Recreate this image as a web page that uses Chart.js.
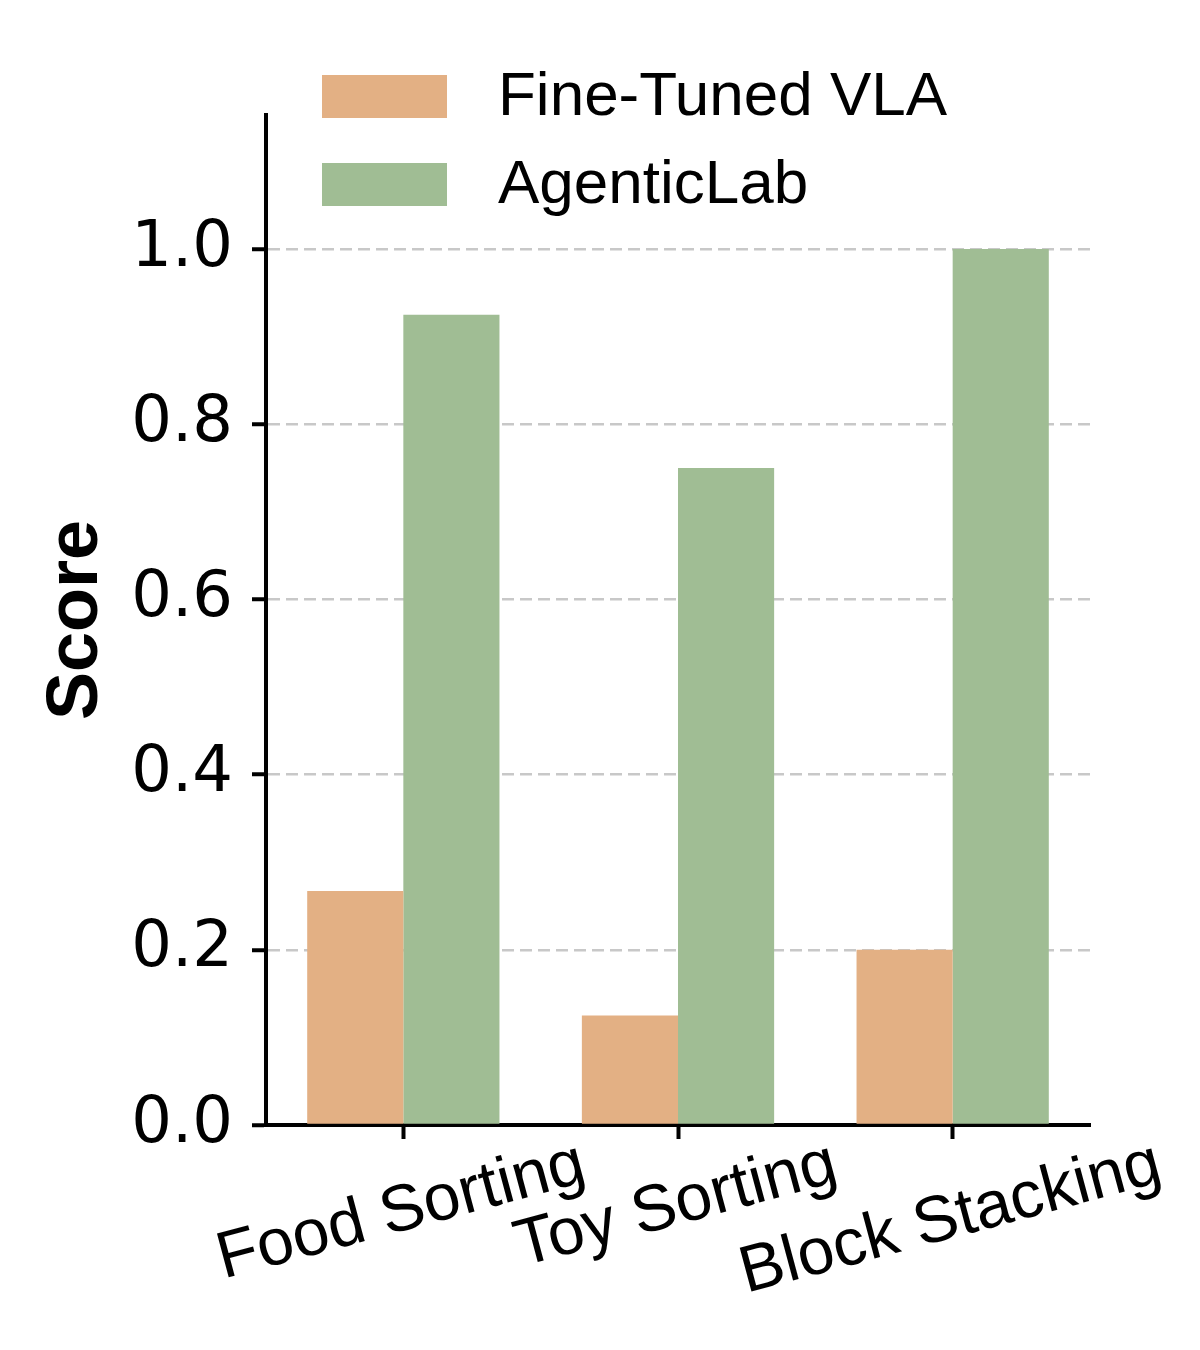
<!DOCTYPE html>
<html>
<head>
<meta charset="utf-8">
<title>Score chart</title>
<script src="https://cdn.jsdelivr.net/npm/chart.js@4/dist/chart.umd.min.js"></script>
<style>
  html, body { margin: 0; padding: 0; background: #fff; }
  #wrap { width: 1200px; height: 1350px; position: relative; }
</style>
</head>
<body>
<div id="wrap"><canvas id="scoreChart"></canvas></div>
<script>
// ===== data =====
const categories = ["Food Sorting", "Toy Sorting", "Block Stacking"];
const seriesNames = ["Fine-Tuned VLA", "AgenticLab"];
const fineTunedVLA = [0.267, 0.125, 0.2];
const agenticLab = [0.925, 0.75, 1.0];
const yTickStep = 0.2;
const yMax = 1.153;

// ===== styles =====
const ORANGE = "#e3b084";
const GREEN = "#a0bd94";
const SANS = "'Liberation Sans', Arial, sans-serif";
const DEJAVU = "'DejaVu Sans', sans-serif";

// custom legend, stacked in the top-left corner
const legendPlugin = {
  id: "stackLegend",
  afterDraw(chart) {
    const ctx = chart.ctx;
    ctx.save();
    ctx.font = "62px " + SANS;
    ctx.textBaseline = "middle";
    chart.data.datasets.forEach((ds, i) => {
      const top = 75 + i * 88;
      ctx.fillStyle = ds.backgroundColor;
      ctx.fillRect(322, top, 125, 43);
      ctx.fillStyle = "#000";
      ctx.fillText(ds.label, 498, top + 23);
    });
    ctx.restore();
  }
};

// rotated category labels, centred under the ticks
const xLabelPlugin = {
  id: "rotatedXLabels",
  afterDraw(chart) {
    const ctx = chart.ctx;
    const xs = chart.scales.x;
    const size = 66;
    const ang = 15 * Math.PI / 180;
    ctx.save();
    ctx.font = size + "px " + SANS;
    ctx.fillStyle = "#000";
    ctx.textAlign = "center";
    ctx.textBaseline = "middle";
    chart.data.labels.forEach((lab, i) => {
      const x = xs.getPixelForTick(i) - 2;
      const w = ctx.measureText(lab).width;
      const h = size * 1.05;
      const H = w * Math.sin(ang) + h * Math.cos(ang);
      const cy = chart.chartArea.bottom + 5 + H / 2;
      ctx.save();
      ctx.translate(x, cy);
      ctx.rotate(-ang);
      ctx.fillText(lab, 0, 0);
      ctx.restore();
    });
    ctx.restore();
  }
};

new Chart(document.getElementById("scoreChart"), {
  type: "bar",
  data: {
    labels: categories,
    datasets: [
      { label: seriesNames[0], data: fineTunedVLA, backgroundColor: ORANGE },
      { label: seriesNames[1], data: agenticLab, backgroundColor: GREEN }
    ]
  },
  options: {
    responsive: true,
    maintainAspectRatio: false,
    animation: false,
    layout: { padding: { left: 0, right: 110, top: 115, bottom: 0 } },
    datasets: {
      bar: { categoryPercentage: 0.7, barPercentage: 1.0, borderWidth: 0 }
    },
    plugins: {
      legend: { display: false },
      tooltip: { enabled: false }
    },
    scales: {
      x: {
        z: 1,
        ticks: { display: false },
        grid: {
          display: true,
          offset: false,
          drawOnChartArea: false,
          drawTicks: true,
          tickLength: 14,
          tickColor: "#000",
          tickWidth: 4
        },
        border: { display: true, color: "#000", width: 4 },
        afterFit: (scale) => { scale.height = 225; }
      },
      y: {
        min: 0,
        max: yMax,
        ticks: {
          stepSize: yTickStep,
          includeBounds: false,
          padding: 19,
          color: "#000",
          font: { family: DEJAVU, size: 64 },
          callback: (v) => v.toFixed(1)
        },
        grid: {
          color: "#c8c8c8",
          lineWidth: 2.5,
          tickLength: 14,
          tickColor: "#000",
          tickWidth: 4
        },
        border: { display: true, color: "#000", width: 4, dash: [12, 6] },
        title: {
          display: true,
          text: "Score",
          color: "#000",
          font: { family: SANS, size: 72, weight: "bold" },
          padding: { top: 34, bottom: 0 }
        },
        afterFit: (scale) => { scale.width = 266; }
      }
    }
  },
  plugins: [legendPlugin, xLabelPlugin]
});
</script>
</body>
</html>
